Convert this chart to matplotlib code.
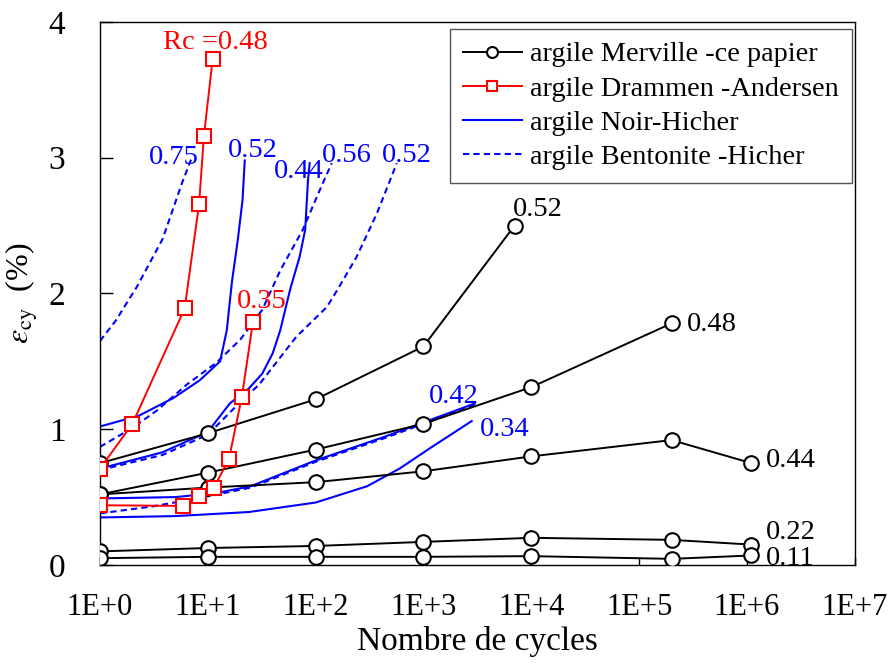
import numpy as np
import matplotlib
matplotlib.use("Agg")
import matplotlib.pyplot as plt
from matplotlib.ticker import FixedLocator, FixedFormatter

plt.rcParams['font.family'] = ['Liberation Serif', 'DejaVu Serif']
plt.rcParams['mathtext.fontset'] = 'stix'

# --- argile Merville (ce papier): N cycles / deformation cyclique (%)
n_merv = [1, 10, 100, 1000, 1e4, 2e5, 1.1e6]
n_merv_052 = [1, 10, 100, 1000, 7000]
eps_merv_052 = [0.75, 0.97, 1.22, 1.61, 2.50]
eps_merv_048 = [0.52, 0.68, 0.85, 1.04, 1.31, 1.78]
eps_merv_044 = [0.52, 0.57, 0.61, 0.69, 0.80, 0.92, 0.75]
eps_merv_022 = [0.10, 0.125, 0.14, 0.17, 0.20, 0.185, 0.15]
eps_merv_011 = [0.05, 0.06, 0.06, 0.06, 0.065, 0.045, 0.07]

# --- argile Drammen (Andersen)
n_dram_048 = [1, 2.0, 6.1, 8.3, 9.2, 11.1]
eps_dram_048 = [0.71, 1.04, 1.89, 2.66, 3.16, 3.73]
n_dram_035 = [1, 5.9, 8.3, 11.4, 15.7, 20.7, 26.2]
eps_dram_035 = [0.44, 0.435, 0.51, 0.57, 0.78, 1.24, 1.79]

# --- argile Noir (Hicher), traits pleins
n_noir_052 = [1, 2.3, 4.8, 8.4, 13, 15, 16.7, 19, 21, 22]
eps_noir_052 = [1.02, 1.10, 1.23, 1.36, 1.50, 1.73, 2.08, 2.40, 2.69, 2.98]
n_noir_044 = [1, 3.8, 10, 16, 24, 32, 40, 47, 58, 71, 80, 85, 88]
eps_noir_044 = [0.71, 0.83, 0.98, 1.19, 1.30, 1.41, 1.56, 1.73, 2.03, 2.27, 2.47, 2.84, 2.96]
n_noir_042 = [1, 5, 12, 25, 100, 420, 1000, 3000]
eps_noir_042 = [0.49, 0.50, 0.53, 0.58, 0.77, 0.94, 1.05, 1.19]
n_noir_034 = [1, 5, 24, 100, 300, 600, 1200, 2800]
eps_noir_034 = [0.35, 0.36, 0.39, 0.46, 0.58, 0.71, 0.87, 1.06]

# --- argile Bentonite (Hicher), pointilles
n_bent_075 = [1, 1.4, 2.2, 3.8, 5.8, 7.1]
eps_bent_075 = [1.65, 1.80, 2.05, 2.40, 2.82, 3.00]
n_bent_056 = [1, 2, 3.4, 6.4, 12, 20, 32, 47, 76, 109, 141]
eps_bent_056 = [0.87, 1.01, 1.14, 1.33, 1.49, 1.66, 1.88, 2.17, 2.47, 2.76, 2.96]
n_bent_052 = [1, 3.8, 10, 20, 30, 66, 127, 160, 240, 370, 566]
eps_bent_052 = [0.70, 0.81, 0.96, 1.20, 1.33, 1.68, 1.90, 2.03, 2.27, 2.59, 2.96]
n_bent_042 = [1, 3, 8, 25, 100, 420, 1000, 3000]
eps_bent_042 = [0.38, 0.43, 0.49, 0.57, 0.76, 0.93, 1.04, 1.18]

xticks = [1, 10, 100, 1e3, 1e4, 1e5, 1e6, 1e7]
xtick_labels = ['1E+0', '1E+1', '1E+2', '1E+3', '1E+4', '1E+5', '1E+6', '1E+7']

BLUE = '#0000ff'
RED = '#ff0000'
DASH = (0, (3, 2))

fig = plt.figure(figsize=(8.96, 6.66), dpi=100)
ax = fig.add_axes([0.1116, 0.1517, 0.8424, 0.8153])

# courbes Hicher (sans marqueurs)
ax.plot(n_noir_052, eps_noir_052, color=BLUE, lw=1.5, zorder=2, label='argile Noir-Hicher')
ax.plot(n_noir_044, eps_noir_044, color=BLUE, lw=1.5, zorder=2)
ax.plot(n_noir_042, eps_noir_042, color=BLUE, lw=1.5, zorder=2)
ax.plot(n_noir_034, eps_noir_034, color=BLUE, lw=1.5, zorder=2)
ax.plot(n_bent_075, eps_bent_075, color=BLUE, lw=1.5, ls=DASH, zorder=2,
        label='argile Bentonite -Hicher')
ax.plot(n_bent_056, eps_bent_056, color=BLUE, lw=1.5, ls=DASH, zorder=2)
ax.plot(n_bent_052, eps_bent_052, color=BLUE, lw=1.5, ls=DASH, zorder=2)
ax.plot(n_bent_042, eps_bent_042, color=BLUE, lw=1.5, ls=DASH, zorder=2)

# Merville
circ = dict(color='black', lw=1.4, marker='o', ms=10.5, mfc='white', mec='black', mew=1.5, zorder=3)
ax.plot(n_merv_052, eps_merv_052, label='argile Merville -ce papier', **circ)
ax.plot(n_merv[:6], eps_merv_048, **circ)
ax.plot(n_merv, eps_merv_044, **circ)
ax.plot(n_merv, eps_merv_022, **circ)
ax.plot(n_merv, eps_merv_011, **circ)

# Drammen
sq = dict(color=RED, lw=1.4, marker='s', ms=10.5, mfc='white', mec=RED, mew=1.5, zorder=4)
ax.plot(n_dram_048, eps_dram_048, label='argile Drammen -Andersen', **sq)
ax.plot(n_dram_035, eps_dram_035, **sq)

# etiquettes Rc
fs = 20.5
ax.text(3.8, 3.85, 'Rc =0.48', color=RED, fontsize=fs, va='center')
ax.text(18.5, 1.94, '0.35', color=RED, fontsize=fs, va='center')
ax.text(2.85, 3.0, '0.75', color=BLUE, fontsize=fs, va='center')
ax.text(15.2, 3.05, '0.52', color=BLUE, fontsize=fs, va='center')
ax.text(41, 2.9, '0.44', color=BLUE, fontsize=fs, va='center')
ax.text(115, 3.02, '0.56', color=BLUE, fontsize=fs, va='center')
ax.text(410, 3.02, '0.52', color=BLUE, fontsize=fs, va='center')
ax.text(1130, 1.24, '0.42', color=BLUE, fontsize=fs, va='center')
ax.text(3300, 1.0, '0.34', color=BLUE, fontsize=fs, va='center')
ax.text(6700, 2.62, '0.52', color='black', fontsize=fs, va='center')
ax.text(2.75e5, 1.77, '0.48', color='black', fontsize=fs, va='center')
ax.text(1.5e6, 0.77, '0.44', color='black', fontsize=fs, va='center')
ax.text(1.5e6, 0.24, '0.22', color='black', fontsize=fs, va='center')
ax.text(1.5e6, 0.05, '0.11', color='black', fontsize=fs, va='center')

ax.set_xscale('log')
ax.set_xlim(1, 1e7)
ax.set_ylim(0, 4)
ax.xaxis.set_major_locator(FixedLocator(xticks))
ax.xaxis.set_major_formatter(FixedFormatter(xtick_labels))
ax.xaxis.set_minor_locator(FixedLocator([]))
ax.set_yticks([0, 1, 2, 3, 4])
ax.tick_params(axis='both', direction='in', width=1.0)
ax.tick_params(axis='y', length=9, pad=25, labelsize=24)
ax.tick_params(axis='x', length=6, pad=20, labelsize=22)
for s in ax.spines.values():
    s.set_linewidth(1.0)

ax.set_xlabel('Nombre de cycles', fontsize=24)
ax.xaxis.set_label_coords(0.5, -0.112)
ax.set_ylabel(r'$\varepsilon_{\rm cy}$  (%)', fontsize=23)
ax.yaxis.set_label_coords(-0.08, 0.5)

# ordre de la legende
h, l = ax.get_legend_handles_labels()
order = ['argile Merville -ce papier', 'argile Drammen -Andersen',
         'argile Noir-Hicher', 'argile Bentonite -Hicher']
hh = [h[l.index(k)] for k in order]
leg = ax.legend(hh, order, loc='upper right', bbox_to_anchor=(0.996, 0.987),
                borderaxespad=0, fontsize=20.3, frameon=True, fancybox=False,
                framealpha=1, edgecolor='#555555', handlelength=2.1,
                handletextpad=0.3, labelspacing=0.3, borderpad=0.45,
                markerscale=0.75)
leg.get_frame().set_linewidth(1.0)

fig.savefig('out.png', dpi=100)
